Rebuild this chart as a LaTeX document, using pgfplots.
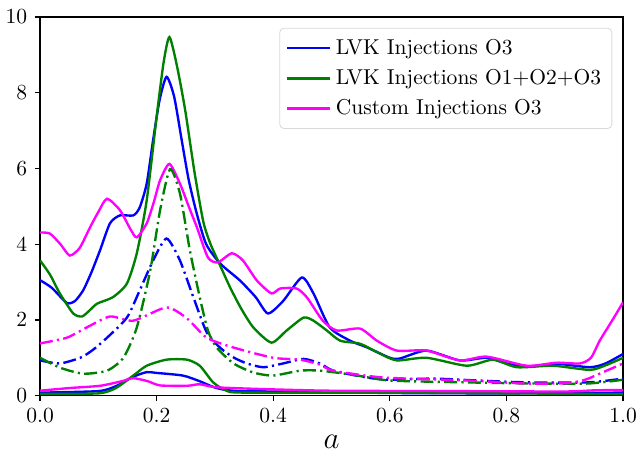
\documentclass[border=0pt]{standalone}
\usepackage{pgfplots}
\pgfplotsset{compat=1.18}
\definecolor{mblue}{RGB}{0,0,255}
\definecolor{mgreen}{RGB}{0,128,0}
\definecolor{mmag}{RGB}{255,0,255}
\begin{document}
\begin{tikzpicture}
\begin{axis}[
  width=271pt, height=176pt, scale only axis,
  xmin=0, xmax=1, ymin=0, ymax=10,
  xtick={0,0.2,0.4,0.6,0.8,1.0},
  ytick={0,2,4,6,8,10},
  tick align=outside, tick pos=left,
  major tick length=2.5pt,
  xticklabel style={/pgf/number format/fixed,/pgf/number format/precision=1,/pgf/number format/fixed zerofill},
  xlabel={$a$}, xlabel style={font=\Large, yshift=1pt},
  axis line style={black, line width=0.6pt},
  every tick/.style={black, line width=0.6pt},
  legend style={at={(rel axis cs:1,1)}, anchor=north east, xshift=-5pt, yshift=-5pt,
    draw=gray!30, rounded corners=2pt, fill=white, font=\normalsize,
    row sep=1.5pt, inner xsep=3pt, inner ysep=3pt},
  legend cell align=left,
  legend image code/.code={\draw[#1] (0pt,0pt) -- (20pt,0pt);},
  every axis plot/.append style={line width=1.1pt, smooth, tension=0.4},
  dashdot/.style={dash pattern=on 6pt off 2pt on 1pt off 2pt},
]
% solid upper
\addplot[mblue] coordinates {(0,3.05) (0.02,2.85) (0.046,2.45) (0.06,2.5) (0.074,2.78) (0.088,3.25) (0.103,3.84) (0.12,4.55) (0.137,4.76) (0.16,4.76) (0.171,4.97) (0.183,5.6) (0.194,6.75) (0.205,7.8) (0.217,8.42) (0.23,7.9) (0.243,6.75) (0.255,5.7) (0.269,4.8) (0.285,4.0) (0.309,3.49) (0.343,3.04) (0.37,2.6) (0.391,2.17) (0.417,2.5) (0.449,3.12) (0.469,2.7) (0.497,1.8) (0.532,1.45) (0.56,1.28) (0.6,1.0) (0.617,0.98) (0.663,1.19) (0.72,0.93) (0.766,1.0) (0.8,0.85) (0.835,0.76) (0.886,0.84) (0.943,0.75) (0.97,0.85) (1.0,1.1)};
\addlegendentry{LVK Injections O3}
\addplot[mgreen] coordinates {(0,3.57) (0.017,3.2) (0.034,2.7) (0.057,2.17) (0.072,2.09) (0.085,2.25) (0.098,2.43) (0.125,2.6) (0.149,2.96) (0.166,3.76) (0.183,5.16) (0.2,7.36) (0.212,8.8) (0.222,9.47) (0.235,8.7) (0.249,7.54) (0.265,5.9) (0.28,4.6) (0.292,4.02) (0.31,3.4) (0.326,2.86) (0.345,2.3) (0.366,1.8) (0.397,1.4) (0.423,1.72) (0.452,2.06) (0.469,1.98) (0.492,1.72) (0.515,1.45) (0.549,1.37) (0.583,1.11) (0.612,0.93) (0.663,1.0) (0.732,0.79) (0.777,0.95) (0.818,0.75) (0.88,0.79) (0.943,0.68) (0.97,0.8) (1.0,1.0)};
\addlegendentry{LVK Injections O1+O2+O3}
\addplot[mmag] coordinates {(0,4.31) (0.017,4.28) (0.035,4.0) (0.051,3.7) (0.068,3.9) (0.086,4.45) (0.1,4.85) (0.115,5.2) (0.137,4.9) (0.155,4.4) (0.166,4.18) (0.183,4.55) (0.195,5.1) (0.206,5.69) (0.222,6.12) (0.24,5.6) (0.255,5.0) (0.269,4.45) (0.288,3.65) (0.305,3.52) (0.329,3.76) (0.348,3.57) (0.372,3.04) (0.397,2.7) (0.412,2.83) (0.44,2.83) (0.458,2.59) (0.485,1.98) (0.509,1.72) (0.549,1.77) (0.578,1.45) (0.612,1.19) (0.663,1.19) (0.72,0.93) (0.766,1.03) (0.835,0.79) (0.886,0.87) (0.926,0.85) (0.945,1.0) (0.96,1.45) (0.98,1.95) (1.0,2.46)};
\addlegendentry{Custom Injections O3}
% dash-dot middle
\addplot[mblue, dashdot, forget plot] coordinates {(0,0.93) (0.034,0.85) (0.069,1.0) (0.09,1.2) (0.115,1.53) (0.149,2.06) (0.171,2.78) (0.194,3.57) (0.217,4.15) (0.24,3.57) (0.263,2.6) (0.286,1.67) (0.31,1.25) (0.333,1.0) (0.355,0.85) (0.383,0.75) (0.417,0.85) (0.452,0.97) (0.48,0.85) (0.503,0.66) (0.56,0.48) (0.6,0.42) (0.674,0.45) (0.75,0.4) (0.835,0.35) (0.94,0.35) (1.0,0.45)};
\addplot[mgreen, dashdot, forget plot] coordinates {(0,1.0) (0.034,0.74) (0.074,0.58) (0.115,0.66) (0.143,1.0) (0.166,1.8) (0.189,3.3) (0.206,4.9) (0.223,5.98) (0.24,5.34) (0.257,3.84) (0.274,2.6) (0.288,1.72) (0.303,1.27) (0.332,0.85) (0.366,0.61) (0.4,0.53) (0.446,0.66) (0.48,0.66) (0.537,0.55) (0.6,0.4) (0.732,0.35) (0.846,0.32) (0.94,0.32) (1.0,0.42)};
\addplot[mmag, dashdot, forget plot] coordinates {(0,1.38) (0.046,1.53) (0.08,1.8) (0.12,2.09) (0.16,1.98) (0.217,2.33) (0.252,2.04) (0.286,1.53) (0.332,1.27) (0.4,1.0) (0.446,0.95) (0.48,0.82) (0.503,0.66) (0.588,0.48) (0.732,0.4) (0.835,0.32) (0.904,0.33) (0.935,0.42) (0.96,0.58) (1.0,0.85)};
% solid bottom
\addplot[mblue, forget plot] coordinates {(0,0.08) (0.1,0.12) (0.13,0.25) (0.16,0.5) (0.183,0.62) (0.2,0.6) (0.245,0.53) (0.274,0.38) (0.303,0.2) (0.343,0.12) (0.5,0.1) (0.6,0.07) (0.8,0.06) (1.0,0.08)};
\addplot[mgreen, forget plot] coordinates {(0,0.05) (0.1,0.06) (0.13,0.2) (0.16,0.53) (0.183,0.79) (0.217,0.95) (0.252,0.95) (0.274,0.79) (0.297,0.35) (0.32,0.13) (0.35,0.08) (0.6,0.08) (0.8,0.06) (1.0,0.04)};
\addplot[mmag, forget plot] coordinates {(0,0.13) (0.05,0.2) (0.103,0.26) (0.14,0.38) (0.16,0.46) (0.185,0.38) (0.206,0.27) (0.252,0.26) (0.274,0.3) (0.303,0.22) (0.389,0.17) (0.5,0.13) (0.7,0.12) (0.9,0.11) (0.95,0.14) (1.0,0.15)};
\coordinate (bl) at (rel axis cs:0,0);
\coordinate (tr) at (rel axis cs:1,1);
\end{axis}
\pgfresetboundingbox
\useasboundingbox ([xshift=-18.6pt,yshift=-28.5pt]bl) rectangle ([xshift=6.5pt,yshift=7.9pt]tr);
\end{tikzpicture}
\end{document}
